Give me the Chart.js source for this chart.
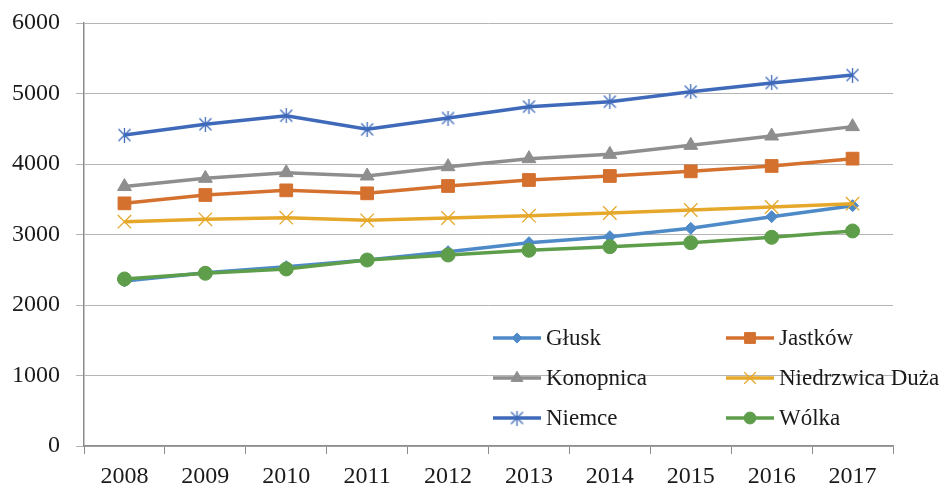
<!DOCTYPE html>
<html>
<head>
<meta charset="utf-8">
<script src="https://cdn.jsdelivr.net/npm/chart.js@4/dist/chart.umd.min.js"></script>
<style>
  html, body { margin: 0; padding: 0; background: #ffffff; }
  #wrap { width: 944px; height: 489px; }
</style>
</head>
<body>
<div id="wrap"><canvas id="c" width="944" height="489"></canvas></div>
<script>
// ---- data ----
const years = ['2008', '2009', '2010', '2011', '2012', '2013', '2014', '2015', '2016', '2017'];
const seriesNames = ['Głusk', 'Jastków', 'Konopnica', 'Niedrzwica Duża', 'Niemce', 'Wólka'];
const glusk      = [2340, 2459, 2544, 2638, 2756, 2884, 2969, 3088, 3253, 3409];
const jastkow    = [3442, 3560, 3626, 3584, 3688, 3773, 3830, 3896, 3972, 4076];
const konopnica  = [3680, 3797, 3877, 3830, 3962, 4076, 4137, 4265, 4397, 4530];
const niedrzwica = [3182, 3215, 3239, 3201, 3234, 3267, 3305, 3348, 3390, 3437];
const niemce     = [4411, 4563, 4685, 4492, 4652, 4813, 4884, 5026, 5149, 5262];
const wolka      = [2369, 2450, 2511, 2638, 2709, 2776, 2827, 2884, 2960, 3050];
const yTicks     = [0, 1000, 2000, 3000, 4000, 5000, 6000];

// ---- styles ----
const colors = ['#4E8AC8', '#D4712F', '#8E8E8E', '#E5A82A', '#3F6ABA', '#5E9E4B'];
const FONT = "'Liberation Serif', 'Times New Roman', serif";

function starMarker(color) {
  const s = 15, cv = document.createElement('canvas');
  cv.width = s; cv.height = s;
  const g = cv.getContext('2d');
  g.strokeStyle = color; g.lineWidth = 1.3;
  g.beginPath();
  g.moveTo(1.5, 1.5); g.lineTo(s - 1.5, s - 1.5);
  g.moveTo(s - 1.5, 1.5); g.lineTo(1.5, s - 1.5);
  g.moveTo(s / 2, 0); g.lineTo(s / 2, s);
  g.stroke();
  return cv;
}

const markerDefs = [
  { pointStyle: 'rectRot', radius: 6, borderWidth: 1 },
  { pointStyle: 'rect', radius: 9, borderWidth: 1 },
  { pointStyle: 'triangle', radius: 8, borderWidth: 1 },
  { pointStyle: 'crossRot', radius: 9.5, borderWidth: 1.3 },
  { pointStyle: starMarker(colors[4]), radius: 7, borderWidth: 1 },
  { pointStyle: 'circle', radius: 7, borderWidth: 1 }
];

const allData = [glusk, jastkow, konopnica, niedrzwica, niemce, wolka];

const datasets = allData.map((d, i) => ({
  label: seriesNames[i],
  data: d,
  borderColor: colors[i],
  backgroundColor: colors[i],
  borderWidth: 3.5,
  tension: 0,
  pointStyle: markerDefs[i].pointStyle,
  pointRadius: markerDefs[i].radius,
  pointHoverRadius: markerDefs[i].radius,
  pointBorderWidth: markerDefs[i].borderWidth,
  pointBorderColor: colors[i],
  pointBackgroundColor: colors[i],
  order: allData.length - i
}));

// custom in-plot legend (two columns)
const legendPlugin = {
  id: 'inPlotLegend',
  afterDraw(chart) {
    const ctx = chart.ctx;
    const ca = chart.chartArea;
    const colX = [ca.left + 409, ca.left + 642];
    const rowY0 = ca.top + 315, rowStep = 40;
    const lineLen = 48;
    ctx.save();
    chart.data.datasets.forEach((ds, i) => {
      const col = i % 2, row = Math.floor(i / 2);
      const x = colX[col], y = rowY0 + row * rowStep;
      ctx.strokeStyle = ds.borderColor;
      ctx.lineWidth = 3.5;
      ctx.beginPath();
      ctx.moveTo(x, y); ctx.lineTo(x + lineLen, y);
      ctx.stroke();
      ctx.fillStyle = ds.pointBackgroundColor;
      ctx.strokeStyle = ds.pointBorderColor;
      ctx.lineWidth = ds.pointBorderWidth;
      Chart.helpers.drawPoint(ctx, {
        pointStyle: ds.pointStyle, radius: ds.pointRadius * 0.85, rotation: 0, borderWidth: ds.pointBorderWidth
      }, x + lineLen / 2, y);
      ctx.fillStyle = '#1a1a1a';
      ctx.font = '23px ' + FONT;
      ctx.textAlign = 'left';
      ctx.textBaseline = 'middle';
      ctx.fillText(ds.label, x + lineLen + 5, y + 1);
    });
    ctx.restore();
  }
};

new Chart(document.getElementById('c'), {
  type: 'line',
  data: { labels: years, datasets: datasets },
  options: {
    responsive: false,
    animation: false,
    events: [],
    layout: { padding: { top: 23, right: 51, left: 0, bottom: 0 } },
    plugins: { legend: { display: false }, tooltip: { enabled: false } },
    scales: {
      x: {
        type: 'category',
        offset: true,
        afterFit(scale) { scale.height = 43; scale.paddingLeft = 0; scale.paddingRight = 0; },
        grid: { offset: true, drawOnChartArea: false, drawTicks: true, tickLength: 8, color: '#8c8c8c', lineWidth: 1 },
        border: { color: '#8c8c8c', width: 1.5 },
        ticks: { color: '#1a1a1a', font: { family: FONT, size: 24 }, padding: 8, maxRotation: 0, autoSkip: false }
      },
      y: {
        min: yTicks[0],
        max: yTicks[yTicks.length - 1],
        afterFit(scale) { scale.width = 84; scale.paddingTop = 0; scale.paddingBottom = 0; },
        afterBuildTicks(scale) { scale.ticks = yTicks.map(v => ({ value: v })); },
        grid: { color: '#b4b4b4', lineWidth: 1, tickLength: 8, drawTicks: true },
        border: { color: '#8c8c8c', width: 1.5 },
        ticks: { color: '#1a1a1a', font: { family: FONT, size: 24 }, padding: 16, callback: v => String(v) }
      }
    }
  },
  plugins: [legendPlugin]
});
</script>
</body>
</html>
